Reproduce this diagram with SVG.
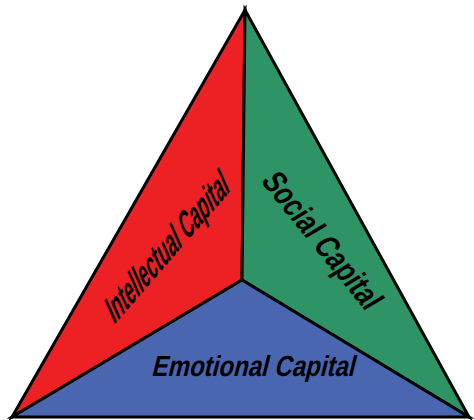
<svg xmlns="http://www.w3.org/2000/svg" width="474" height="420" viewBox="0 0 474 420">
<style>
.seg{stroke:#000;stroke-width:3;stroke-linejoin:miter}
.lbl{font-family:"Liberation Sans",Arial,sans-serif;font-weight:bold;fill:#000}
</style>
<rect width="474" height="420" fill="#fff"/>
<g id="intellectual">
<polygon class="seg" points="245,10 242,280 12,417" fill="#ED2024"/>
<text class="lbl" font-size="34" textLength="178" lengthAdjust="spacingAndGlyphs" transform="translate(114,325) rotate(-49) skewX(-25)">Intellectual Capital</text>
</g>
<g id="social">
<polygon class="seg" points="245,10 469,417 242,280" fill="#2E9466"/>
<text class="lbl" font-size="33" textLength="168" lengthAdjust="spacingAndGlyphs" transform="translate(260,181) rotate(51) skewX(-8)">Social Capital</text>
</g>
<g id="emotional">
<polygon class="seg" points="12,417 242,280 469,417" fill="#4A66B0"/>
<text class="lbl" font-size="29" textLength="203" lengthAdjust="spacingAndGlyphs" transform="translate(151,376) skewX(-14)">Emotional Capital</text>
</g>
</svg>
